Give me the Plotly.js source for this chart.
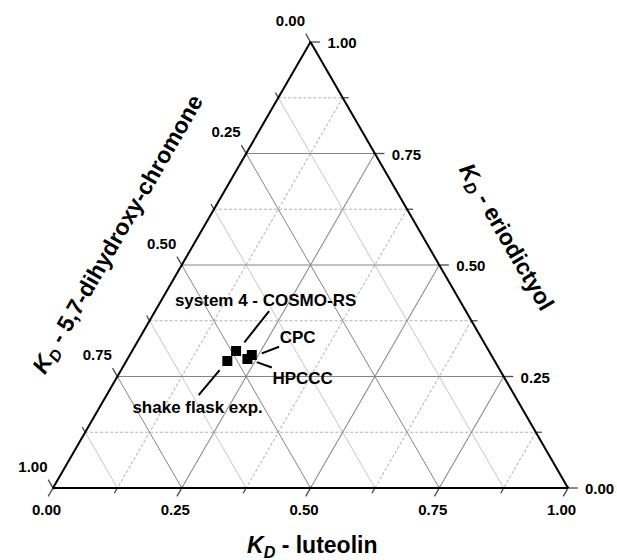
<!DOCTYPE html>
<html>
<head>
<meta charset="utf-8">
<script src="https://cdn.plot.ly/plotly-3.0.1.min.js"></script>
<style>html,body{margin:0;padding:0;background:#fff;}#chart{width:617px;height:560px;}</style>
</head>
<body>
<div id="chart"></div>
<script>
// ---------------- data (K_D fractions) ----------------
const systems     = ['system 4 - COSMO-RS', 'shake flask exp.', 'CPC', 'HPCCC'];
const eriodictyol = [0.307, 0.285, 0.298, 0.289];   // top vertex (a)
const chromone    = [0.491, 0.519, 0.465, 0.478];   // bottom-left vertex (b)
const luteolin    = [0.202, 0.196, 0.237, 0.233];   // bottom-right vertex (c)

// ---------------- axis ticks ----------------
const tickVals  = [0, 0.125, 0.25, 0.375, 0.5, 0.625, 0.75, 0.875, 1];
const majorVals = [0.25, 0.5, 0.75];
const minorVals = [0.125, 0.375, 0.625, 0.875];
const labelVals = [0, 0.25, 0.5, 0.75, 1];
const labelText = ['0.00', '0.25', '0.50', '0.75', '1.00'];

// ---------------- axis titles ----------------
const titleBottom = '<i>K</i><sub><i>D</i></sub> - luteolin';
const titleLeft   = '<i>K</i><sub><i>D</i></sub> - 5,7-dihydroxy-chromone';
const titleRight  = '<i>K</i><sub><i>D</i></sub> - eriodictyol';

// ---------------- geometry (page pixels) ----------------
const PW = 617, PH = 560;
const X0 = 53, SIDE = 515, YB = 488;          // main triangle
const TH = SIDE * Math.sqrt(3) / 2;
const F = 1.14;                                // helper (outer) triangle scale
const CX = X0 + SIDE / 2, CY = YB - TH / 3;
const OS = SIDE * F, OTH = TH * F, OX0 = CX - OS / 2, OYB = CY + OTH / 3;
const FONT = 'Liberation Sans, Arial, Helvetica, sans-serif';

// shift a ternary point by a pixel offset (in the main triangle's scale)
function shift(p, dx, dy) {
  const da = -dy / TH;
  const dc = (dx - da * SIDE / 2) / SIDE;
  return [p[0] + da, p[1] - da - dc, p[2] + dc];
}
// express a main-triangle point in the outer helper triangle
function outer(p) { return p.map(v => (v - 1 / 3) / F + 1 / 3); }
function cols(pts) { return {a: pts.map(p => p[0]), b: pts.map(p => p[1]), c: pts.map(p => p[2])}; }

// ---------------- ticks (outer helper subplot) ----------------
const tickPts = [], tickSym = [], tickAng = [], tickSize = [];
tickVals.forEach(t => {
  const len = (t * 4) % 1 === 0 ? 8 : 5;
  // bottom edge: luteolin ticks, along constant-c lines
  tickPts.push(outer(shift([0, 1 - t, t], -0.5 * len / 2, 0.866 * len / 2)));
  tickSym.push('line-ns'); tickAng.push(30); tickSize.push(len);
  // left edge: chromone ticks, along constant-b lines
  tickPts.push(outer(shift([1 - t, t, 0], -0.5 * len / 2, -0.866 * len / 2)));
  tickSym.push('line-ns'); tickAng.push(-30); tickSize.push(len);
  // right edge: eriodictyol ticks, horizontal
  tickPts.push(outer(shift([t, 0, 1 - t], len / 2, 0)));
  tickSym.push('line-ew'); tickAng.push(0); tickSize.push(len);
});

const TFS = 15;
const botLab = labelVals.map(t => outer(shift([0, 1 - t, t], -6.5, 21.3 - 0.39 * TFS)));
const leftLab = labelVals.map(t => outer(shift([1 - t, t, 0], -5.5, -21.7 + 0.108 * TFS)));
const rightLab = labelVals.map(t => outer(shift([t, 0, 1 - t], 17, 1 + 0.108 * TFS)));

// ---------------- point labels (main subplot) ----------------
const LFS = 17;
const labelOffsets = [[29.5, -51], [-29.7, 46], [45.8, -17.7], [55.2, 19]];
const leaderOffsets = [[[33, -40], [8.3, -8.7]], [[-7.7, 9.3], [-28.7, 34.3]],
                       [[27.3, -8.3], [10, -1.7]], [[24.4, 8.4], [9.4, 3]]];
const pts = systems.map((s, i) => [eriodictyol[i], chromone[i], luteolin[i]]);
const labPts = pts.map((p, i) => shift(p, labelOffsets[i][0], labelOffsets[i][1] + 0.108 * LFS));
const leadA = [], leadB = [], leadC = [];
pts.forEach((p, i) => {
  leaderOffsets[i].forEach(o => { const q = shift(p, o[0], o[1]); leadA.push(q[0]); leadB.push(q[1]); leadC.push(q[2]); });
  leadA.push(null); leadB.push(null); leadC.push(null);
});

const tf = (size) => ({family: FONT, size: size, color: '#000', weight: 'bold'});

const traces = [
  {type: 'scatterternary', subplot: 'ternary', a: [], b: [], c: [], mode: 'markers', hoverinfo: 'skip', showlegend: false},
  {type: 'scatterternary', subplot: 'ternary2', a: leadA, b: leadB, c: leadC, mode: 'lines',
   line: {color: '#000', width: 2}, hoverinfo: 'skip', showlegend: false},
  {type: 'scatterternary', subplot: 'ternary2', a: eriodictyol, b: chromone, c: luteolin, mode: 'markers',
   marker: {symbol: 'square', size: 10, color: '#000', line: {width: 0}}, hoverinfo: 'skip', showlegend: false},
  Object.assign({type: 'scatterternary', subplot: 'ternary2', mode: 'text', text: systems,
   textposition: 'middle center', textfont: tf(LFS), hoverinfo: 'skip', showlegend: false}, cols(labPts)),
  Object.assign({type: 'scatterternary', subplot: 'ternary3', mode: 'markers', cliponaxis: false,
   marker: {symbol: tickSym, angle: tickAng, size: tickSize, color: '#000', line: {color: '#000', width: 1.3}},
   hoverinfo: 'skip', showlegend: false}, cols(tickPts)),
  Object.assign({type: 'scatterternary', subplot: 'ternary3', mode: 'text', cliponaxis: false, text: labelText,
   textposition: 'bottom center', textfont: tf(TFS), hoverinfo: 'skip', showlegend: false}, cols(botLab)),
  Object.assign({type: 'scatterternary', subplot: 'ternary3', mode: 'text', cliponaxis: false, text: labelText,
   textposition: 'middle left', textfont: tf(TFS), hoverinfo: 'skip', showlegend: false}, cols(leftLab)),
  Object.assign({type: 'scatterternary', subplot: 'ternary3', mode: 'text', cliponaxis: false, text: labelText,
   textposition: 'middle right', textfont: tf(TFS), hoverinfo: 'skip', showlegend: false}, cols(rightLab))
];

const mainDomain = {x: [X0 / PW, (X0 + SIDE) / PW], y: [(PH - YB) / PH, (PH - YB + TH) / PH]};
const outerDomain = {x: [OX0 / PW, (OX0 + OS) / PW], y: [(PH - OYB) / PH, (PH - OYB + OTH) / PH]};

function minorAx(dash, color) {
  return {min: 0, tickmode: 'array', tickvals: minorVals, showticklabels: false, ticks: '',
          showline: false, showgrid: true, gridcolor: color, gridwidth: 1, griddash: dash, title: {text: ''}};
}
function majorAx() {
  return {min: 0, tickmode: 'array', tickvals: majorVals, showticklabels: false, ticks: '',
          showline: true, linecolor: '#000', linewidth: 2,
          showgrid: true, gridcolor: '#858585', gridwidth: 1, title: {text: ''}};
}
function blankAx() {
  return {min: 0, showticklabels: false, ticks: '', showline: false, showgrid: false, title: {text: ''}};
}

const annFont = {family: FONT, size: 23, color: '#000', weight: 'bold'};
const layout = {
  width: PW, height: PH,
  margin: {l: 0, r: 0, t: 0, b: 0},
  paper_bgcolor: '#fff',
  showlegend: false,
  hovermode: false,
  ternary: {domain: mainDomain, sum: 1, bgcolor: '#fff',
            aaxis: minorAx('3px,2px', '#b4b4b4'), baxis: minorAx('solid', '#c6c6c6'), caxis: minorAx('3px,2px', '#b4b4b4')},
  ternary2: {domain: mainDomain, sum: 1, bgcolor: 'rgba(0,0,0,0)',
             aaxis: majorAx(), baxis: majorAx(), caxis: majorAx()},
  ternary3: {domain: outerDomain, sum: 1, bgcolor: 'rgba(0,0,0,0)',
             aaxis: blankAx(), baxis: blankAx(), caxis: blankAx()},
  annotations: [
    {text: titleBottom, xref: 'paper', yref: 'paper', x: 311.5 / PW, y: 1 - 546 / PH,
     xanchor: 'center', yanchor: 'middle', showarrow: false, font: annFont},
    {text: titleLeft, xref: 'paper', yref: 'paper', x: 118 / PW, y: 1 - 235 / PH, textangle: -60,
     xanchor: 'center', yanchor: 'middle', showarrow: false, font: annFont},
    {text: titleRight, xref: 'paper', yref: 'paper', x: 505.5 / PW, y: 1 - 237.5 / PH, textangle: 60,
     xanchor: 'center', yanchor: 'middle', showarrow: false, font: annFont}
  ]
};

Plotly.newPlot('chart', traces, layout, {staticPlot: true, displayModeBar: false});
</script>
</body>
</html>
